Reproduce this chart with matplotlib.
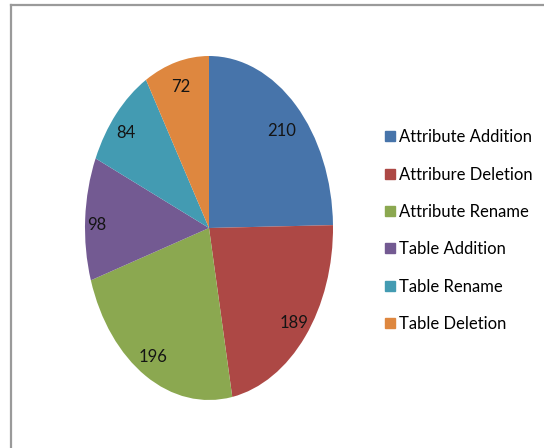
import matplotlib.pyplot as plt
import matplotlib.patches as mpatches
from matplotlib.lines import Line2D

categories = ['Attribute Addition', 'Attribure Deletion', 'Attribute Rename',
              'Table Addition', 'Table Rename', 'Table Deletion']
counts = [210, 189, 196, 98, 84, 72]
colours = ['#4774AA', '#AD4845', '#8BA850', '#735A92', '#439BB2', '#DE873F']

plt.rcParams['font.family'] = ['Lato', 'DejaVu Sans']

fig = plt.figure(figsize=(5.44, 4.48), dpi=100)
fig.patch.set_facecolor('white')

# chart frame: only the left and top edges fall inside the image
fig.add_artist(Line2D([11 / 544, 11 / 544], [0, 1 - 5 / 448], color='#9a9a9a', lw=1.6))
fig.add_artist(Line2D([11 / 544, 1], [1 - 5 / 448, 1 - 5 / 448], color='#9a9a9a', lw=1.6))

ax = fig.add_axes([85 / 544, 1 - 400 / 448, 248 / 544, 344 / 448])
total = sum(counts)
wedges, texts, autotexts = ax.pie(
    counts, colors=colours, startangle=90, counterclock=False,
    autopct=lambda p: '%d' % round(p * total / 100), pctdistance=0.88,
    wedgeprops=dict(linewidth=0),
    textprops=dict(fontsize=12, color='#141414'))
ax.set_aspect('auto')
ax.set_xlim(-1, 1)
ax.set_ylim(-1, 1)

# small nudges so the value labels sit where Excel's best-fit puts them
nudges = [(-0.03, -0.065), (0, 0.0), (0, 0.005), (-0.025, -0.03), (-0.015, -0.035), (0, -0.03)]
for t, (dx, dy) in zip(autotexts, nudges):
    x, y = t.get_position()
    t.set_position((x + dx, y + dy))

handles = [mpatches.Patch(color=c, label=l) for c, l in zip(colours, categories)]
fig.legend(handles=handles, loc='upper left', bbox_to_anchor=(377 / 544, 1 - 121 / 448),
           frameon=False, fontsize=12, handlelength=0.55, handleheight=0.55,
           handletextpad=0.25, labelspacing=1.28, borderpad=0)

plt.savefig('out.png', dpi=100)
